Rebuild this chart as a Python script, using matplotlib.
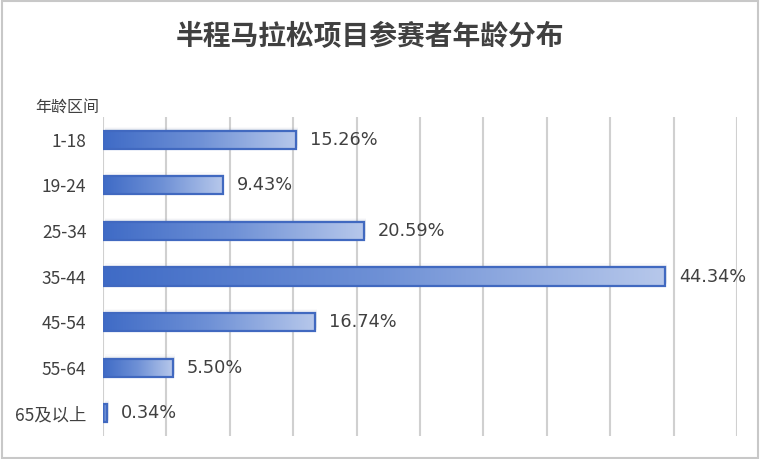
import matplotlib.pyplot as plt
import numpy as np
from matplotlib.colors import LinearSegmentedColormap
from matplotlib.patches import Rectangle

plt.rcParams['font.family'] = ['Noto Sans CJK SC', 'DejaVu Sans']

age_groups = ['1-18', '19-24', '25-34', '35-44', '45-54', '55-64', '65及以上']
shares = [15.26, 9.43, 20.59, 44.34, 16.74, 5.50, 0.34]

text_color = '#404040'
grad = LinearSegmentedColormap.from_list('bar_grad', ['#3F6BC6', '#6F91D6', '#B7C8EB'])

fig = plt.figure(figsize=(7.6, 4.59), dpi=100)
ax = fig.add_axes([103 / 760, 1 - 436 / 459, 634 / 760, 319 / 459])

ypos = np.arange(len(age_groups))
bar_h = 0.4
gradient = np.linspace(0, 1, 256).reshape(1, -1)

for y, v in zip(ypos, shares):
    # soft shadow under the bar
    for k, a in enumerate([0.10, 0.07, 0.04]):
        off = 0.03 + k * 0.03
        ax.add_patch(Rectangle((0.15, y - bar_h / 2 - off), v, bar_h,
                               facecolor='#8090B0', edgecolor='none', alpha=a, zorder=2))
    ax.imshow(gradient, cmap=grad, aspect='auto', interpolation='bicubic',
              extent=(0, v, y + bar_h / 2, y - bar_h / 2), zorder=3)
    ax.add_patch(Rectangle((0, y - bar_h / 2), v, bar_h, facecolor='none',
                           edgecolor='#4169C0', linewidth=1.6, zorder=4))
    ax.text(v + 1.1, y, f'{v:.2f}%', va='center', ha='left', fontsize=12.8,
            color=text_color, family=['DejaVu Sans'])

ax.set_xlim(0, 50)
ax.set_ylim(len(age_groups) - 0.5, -0.5)
ax.set_xticks(np.arange(0, 51, 5))
ax.set_xticklabels([])
ax.set_yticks(ypos)
ax.set_yticklabels(age_groups, fontsize=12.5, color=text_color)
ax.tick_params(length=0, pad=12)
ax.grid(axis='x', color='#D0D0D0', linewidth=1.5, zorder=0)
ax.set_axisbelow(True)
for s in ax.spines.values():
    s.set_visible(False)

fig.text(35 / 760, 1 - 107 / 459, '年龄区间', fontsize=11.5, color=text_color, va='center')
fig.text(370 / 760, 1 - 37 / 459, '半程马拉松项目参赛者年龄分布', fontsize=20,
         fontweight='bold', color=text_color, ha='center', va='center')
fig.patches.append(Rectangle((0.002, 0.003), 0.996, 0.994, transform=fig.transFigure,
                             fill=False, edgecolor='#C8C8C8', linewidth=1.5))

fig.savefig('out.png', dpi=100)
